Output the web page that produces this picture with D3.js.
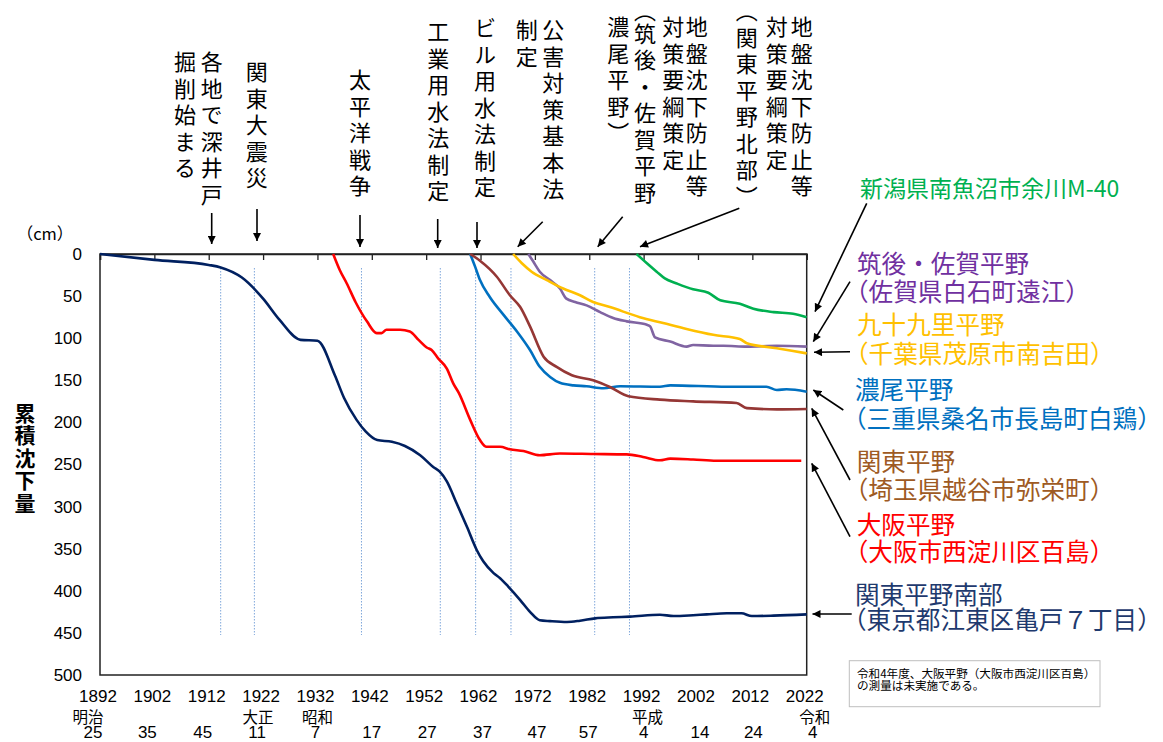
<!DOCTYPE html>
<html><head><meta charset="utf-8">
<script src="https://cdn.jsdelivr.net/npm/d3@7"></script>
<style>
body{margin:0;background:#fff}
text{font-family:"Noto Sans CJK JP","Noto Sans",sans-serif}
.num{font-family:"Liberation Sans",Arial,sans-serif}
.vt{writing-mode:vertical-rl;text-orientation:mixed}
</style>
</head><body><svg id="c" width="1163" height="742"></svg>
<script>
// ---------- data ----------
const tickYears = [1892,1902,1912,1922,1932,1942,1952,1962,1972,1982,1992,2002,2012,2022];
const eraNames  = ["明治","","","大正","昭和","","","","","","平成","","","令和"];
const eraYears  = ["25","35","45","11","7","17","27","37","47","57","4","14","24","4"];
const yTicks = [0,50,100,150,200,250,300,350,400,450,500];
const eventYears = [1914.2,1920.4,1940.1,1954.6,1961.1,1967.6,1983.0,1989.4];

const kantoSouthYears = [1892,1902,1912,1914.2,1918.1,1922,1925,1928.9,1932,1935.2,1936.9,1939.2,1940.9,1943,1945.7,1948.1,1950.9,1953.3,1954.5,1955.8,1957.6,1959.5,1961.3,1962.5,1964.4,1965.6,1967.1,1969.3,1971.1,1972.9,1974.8,1977.9,1980.3,1983.1,1986.4,1989.5,1995,1997.5,2001.1,2003.6,2007.3,2010,2011.9,2015.9,2022];
const kantoSouthValues = [0,7,13,16,28,53,78,102,103,144,171,197,211,221,223,228,239,253,258.5,270,296,324,351.5,365,379,385,395,411,425,435,436,437,435.5,432.7,431.5,430.7,428.4,430,429,428,426.7,426.7,430,429.5,428];

const osakaYears = [1934.9,1936.1,1937.4,1939,1941.1,1942.9,1943.8,1944.7,1947.2,1949,1950.6,1952.1,1953,1954.2,1955.8,1957,1958,1960.1,1961.9,1963.1,1965.6,1967.4,1969.9,1972.9,1976.6,1982.7,1988.9,1991.9,1995,1996.9,2001.1,2005.4,2013.4,2021];
const osakaValues = [0,19,35,57,80,94,94,90,90,92,102,111,114,124,136,154,165,197,221,229,229,232,234,239,237,237.5,238,241,245,243,244,245.5,245.5,245.5];

const nobiYears = [1960.1,1961,1961.9,1963.7,1966.2,1968.7,1971.1,1972.9,1974.8,1976.6,1979.1,1981.5,1984.6,1987.7,1995,1996.9,2007.3,2014.6,2016.5,2018.3,2022];
const nobiValues = [0,15,31,51,72,92,114,134,146,153,156,157,159.5,157,157.6,156,157.6,157.6,161.5,160.7,163.5];

const kantoYears = [1960.1,1961.9,1965,1967.4,1969.3,1971.1,1973.6,1976,1978.8,1982.7,1985.8,1989.2,1995,2001.1,2009.1,2011,2016.5,2022];
const kantoValues = [0,8,27,49,63,86,122,134,144,150,158,169,173,175,177,183,184.5,184];

const kujukuriYears = [1968,1969.6,1971.4,1974.2,1977.2,1980.3,1982.7,1985.8,1991.3,1995.6,1999.9,2004.8,2009.7,2011,2016.5,2022];
const kujukuriValues = [0,11,21,31,41,49,57,63,75,82,89,96,101,106,112,118];

const sagaYears = [1970.8,1971.7,1972.9,1974.8,1976.6,1977.8,1979.4,1981.5,1984,1986.4,1988.9,1992.6,1993.2,1994.1,1996.9,1999.9,2001.1,2004.8,2006.7,2011,2016.5,2022];
const sagaValues = [0,9,21,31,41,53,57,61,69,76,80,84,86,99,104,110,108,109,109,110,109,110];

const niigataYears = [1990.7,1992.6,1994.4,1995.9,1998.1,2001.1,2003.9,2006.1,2009.7,2012.2,2015.9,2019.5,2022];
const niigataValues = [0,11,21,29,35,42,46,55,59,65,69,71,75];

const seriesLabels = [
  ["新潟県南魚沼市余川M-40"],
  ["筑後・佐賀平野","（佐賀県白石町遠江）"],
  ["九十九里平野","（千葉県茂原市南吉田）"],
  ["濃尾平野","（三重県桑名市長島町白鶏）"],
  ["関東平野","（埼玉県越谷市弥栄町）"],
  ["大阪平野","（大阪市西淀川区百島）"],
  ["関東平野南部","（東京都江東区亀戸７丁目）"]
];
const eventTexts = ["各地で深井戸","掘削始まる","関東大震災","太平洋戦争","工業用水法制定","ビル用水法制定","公害対策基本法","制定","地盤沈下防止等","対策要綱策定","（","筑後・佐賀平野","濃尾平野）","地盤沈下防止等","対策要綱策定","（関東平野北部）"];
const noteLines = ["令和4年度、大阪平野（大阪市西淀川区百島）","の測量は未実施である。"];

// ---------- chart ----------
const svg = d3.select("#c");
svg.append("rect").attr("width",1163).attr("height",742).attr("fill","#fff");
const x = d3.scaleLinear().domain([1892,2022]).range([100,806.7]);
const y = d3.scaleLinear().domain([0,500]).range([254,675]);

const defs = svg.append("defs");
defs.append("marker").attr("id","ah").attr("viewBox","0 0 10 10").attr("refX",10).attr("refY",5)
  .attr("markerWidth",9).attr("markerHeight",8).attr("markerUnits","userSpaceOnUse").attr("orient","auto")
  .append("path").attr("d","M0,0L10,5L0,10z").attr("fill","#000");

// event dotted lines
svg.append("g").selectAll("line").data(eventYears).join("line")
  .attr("x1",d=>x(d)).attr("x2",d=>x(d)).attr("y1",268).attr("y2",635)
  .attr("stroke","#7FA7DB").attr("stroke-width",1).attr("stroke-dasharray","1.5,1.5");

// frame
svg.append("rect").attr("x",100).attr("y",254).attr("width",706.7).attr("height",421)
  .attr("fill","none").attr("stroke","#222").attr("stroke-width",1.5);

// top axis with inward ticks
const topAxis = svg.append("g").attr("transform","translate(0,254)")
  .call(d3.axisBottom(x).tickValues(tickYears).tickSize(6).tickFormat(""));
topAxis.select(".domain").attr("stroke","#222").attr("stroke-width",1.5);
topAxis.selectAll(".tick line").attr("stroke","#222").attr("stroke-width",1.3);

// bottom labels
const botAxis = svg.append("g").attr("transform","translate(-2.5,675)")
  .call(d3.axisBottom(x).tickValues(tickYears).tickSize(0).tickPadding(15).tickFormat(d3.format("d")));
botAxis.select(".domain").remove();
botAxis.selectAll("text").attr("class","num").style("font-size","17px").attr("fill","#000");

const eraOff = [-12,0,0,-5,0,0,0,0,0,0,4,0,0,8];
svg.append("g").selectAll("text").data(tickYears).join("text")
  .attr("x",(d,i)=>x(d)+eraOff[i]).attr("y",723).attr("text-anchor","middle")
  .style("font-size","15.5px").text((d,i)=>eraNames[i]);
const numOff = [-7,-7,-6,-6,-2,0,1,2,2,-1,0,2,1,6];
svg.append("g").selectAll("text").data(tickYears).join("text").attr("class","num")
  .attr("x",(d,i)=>x(d)+numOff[i]).attr("y",738).attr("text-anchor","middle")
  .style("font-size","17px").text((d,i)=>eraYears[i]);

// y axis
const yAxis = svg.append("g").attr("transform","translate(100,0)")
  .call(d3.axisLeft(y).tickValues(yTicks).tickSize(0).tickPadding(18));
yAxis.select(".domain").remove();
yAxis.selectAll("text").attr("class","num").style("font-size","17px").attr("fill","#000");
svg.append("text").attr("x",45).attr("y",233).attr("text-anchor","middle").attr("dominant-baseline","central")
  .style("font-size","16.5px").text("（cm）");
svg.append("text").attr("class","vt").attr("x",25).attr("y",402.5)
  .style("font-size","21px").style("font-weight","bold").style("letter-spacing","1.5px").text("累積沈下量");

// series lines
const series = [
  {xs:niigataYears, ys:niigataValues, c:"#00B050"},
  {xs:sagaYears, ys:sagaValues, c:"#8064A2"},
  {xs:kujukuriYears, ys:kujukuriValues, c:"#FFC000"},
  {xs:nobiYears, ys:nobiValues, c:"#0070C0"},
  {xs:kantoYears, ys:kantoValues, c:"#953735"},
  {xs:osakaYears, ys:osakaValues, c:"#FF0000"},
  {xs:kantoSouthYears, ys:kantoSouthValues, c:"#002060"}
];
const line = d3.line().x(d=>x(d[0])).y(d=>y(d[1])).curve(d3.curveMonotoneX);
series.forEach(s=>{
  svg.append("path").datum(s.xs.map((v,i)=>[v,s.ys[i]]))
    .attr("d",line).attr("fill","none").attr("stroke",s.c).attr("stroke-width",2.6)
    .attr("stroke-linejoin","round");
});

// event texts (vertical columns; y = top of first character box)
const colLayout = [[211.7,51],[185,51],[256.7,61],[360,69],[438.3,20.7],[485,17],[553.3,19],[526.7,19],[696.7,16],[673.3,16],[645,0],[645,22.5],[618.3,15.7],[801.7,16],[776.7,16],[746.7,0]];
eventTexts.forEach((t,k)=>{
  svg.append("text").attr("class","vt").attr("x",colLayout[k][0]).attr("y",colLayout[k][1])
    .style("font-size","22px").style("letter-spacing","4.5px").text(t);
});
const topArrows = [[211.7,213,211.7,244],[257,209,257,241],[360,215,360,247],[437.7,219,437.7,248],[477,222,477,248],[542.7,221.7,517.7,246.7],[622.7,216.7,597.7,246.7],[739.3,208.3,640,246.7]];
const rightArrows = [[866.7,203.3,815,311.7],[850,281.7,813.3,341.7],[850,351.7,814,352.3],[843.3,410,813.3,390],[850,480,811.7,408.3],[850,536.7,811.7,463.3],[851.7,614,812.5,614]];
svg.append("g").selectAll("line").data(topArrows.concat(rightArrows)).join("line")
  .attr("x1",d=>d[0]).attr("y1",d=>d[1]).attr("x2",d=>d[2]).attr("y2",d=>d[3])
  .attr("stroke","#000").attr("stroke-width",1.6).attr("marker-end","url(#ah)");

// right labels
const labelColors = ["#00B050","#7030A0","#FFC000","#0070C0","#9E5A23","#FF0000","#1F3A6E"];
const labelPos = [[860,186.7],[857,261.7],[857,323.3],[855,388.3],[856.7,460],[856.7,523.3],[855,593.3]];
const labelGap = [0,28.3,28.4,28.4,28.3,26.7,25];
seriesLabels.forEach((ls,k)=>{
  const t = svg.append("text").attr("dominant-baseline","central")
    .style("font-size",k===0?"23px":"24.6px").attr("fill",labelColors[k]);
  ls.forEach((s,j)=>{
    const paren = s.startsWith("（");
    t.append("tspan").attr("x",paren?labelPos[k][0]-13:labelPos[k][0])
      .attr("y",labelPos[k][1]+j*labelGap[k]).text(s);
  });
});

// note box
svg.append("rect").attr("x",849.3).attr("y",660.7).attr("width",250.7).attr("height",46)
  .attr("fill","#fff").attr("stroke","#BFBFBF").attr("stroke-width",1);
const note = svg.append("text").attr("dominant-baseline","central").style("font-size","11.6px");
noteLines.forEach((s,i)=>{
  note.append("tspan").attr("x",857).attr("y",673.3+i*11.7).text(s);
});
</script>
</body></html>
